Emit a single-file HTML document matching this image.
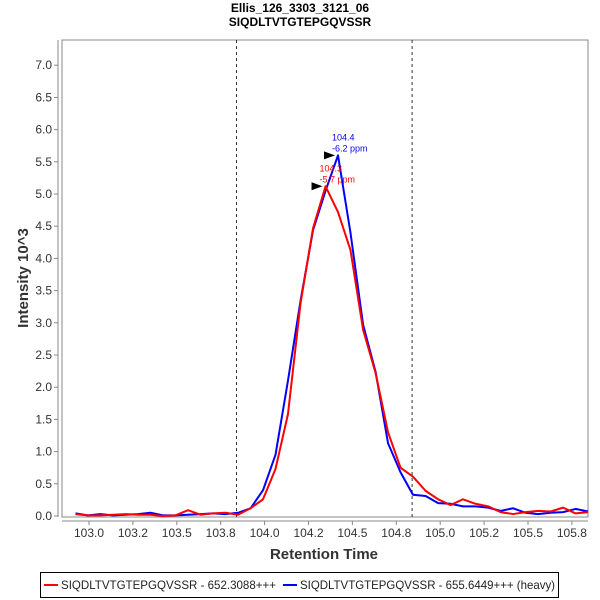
<!DOCTYPE html>
<html><head><meta charset="utf-8"><style>
body{margin:0;background:#fff;font-family:"Liberation Sans",sans-serif}
svg{display:block}
</style></head><body>
<svg id="chart" width="600" height="600" xmlns="http://www.w3.org/2000/svg">
<text x="300" y="12" text-anchor="middle" font-size="12" font-weight="bold">Ellis_126_3303_3121_06</text>
<text x="300" y="26" text-anchor="middle" font-size="12" font-weight="bold">SIQDLTVTGTEPGQVSSR</text>
<rect x="62" y="40" width="526" height="477" fill="#fff" stroke="#888"/>
<g id="yaxis"></g>
<g id="xaxis"></g>
<g id="marks"></g>
<text x="324" y="559" text-anchor="middle" font-size="15" font-weight="bold" fill="#333">Retention Time</text>
<text transform="translate(28,278) rotate(-90)" text-anchor="middle" font-size="15" font-weight="bold" fill="#333">Intensity 10^3</text>
<g>
<rect x="40.5" y="572.5" width="518" height="25" fill="#fff" stroke="#000"/>
<line x1="44" y1="585" x2="58" y2="585" stroke="red" stroke-width="2"/>
<text x="61" y="589" font-size="12" fill="#222" textLength="215" lengthAdjust="spacingAndGlyphs">SIQDLTVTGTEPGQVSSR - 652.3088+++</text>
<line x1="283" y1="585" x2="297" y2="585" stroke="blue" stroke-width="2"/>
<text x="300" y="589" font-size="12" fill="#222" textLength="255" lengthAdjust="spacingAndGlyphs">SIQDLTVTGTEPGQVSSR - 655.6449+++ (heavy)</text>
</g>
</svg>
<script>
const times=[102.923,102.994,103.065,103.137,103.208,103.279,103.350,103.421,103.493,103.564,103.635,103.706,103.777,103.849,103.920,103.991,104.062,104.133,104.205,104.276,104.347,104.418,104.489,104.561,104.632,104.703,104.774,104.845,104.917,104.988,105.059,105.130,105.201,105.273,105.344,105.415,105.486,105.557,105.629,105.700,105.771,105.842];
const lightValues=[0.03,0.01,0.01,0.02,0.03,0.02,0.02,0.0,0.01,0.09,0.02,0.04,0.05,0.02,0.12,0.26,0.73,1.58,3.31,4.47,5.12,4.72,4.13,2.89,2.22,1.30,0.75,0.61,0.39,0.26,0.17,0.26,0.19,0.15,0.06,0.03,0.06,0.08,0.07,0.13,0.04,0.06];
const heavyValues=[0.04,0.01,0.03,0.01,0.02,0.03,0.05,0.01,0.01,0.02,0.03,0.04,0.03,0.05,0.12,0.40,0.95,2.10,3.35,4.44,5.05,5.60,4.40,2.97,2.24,1.13,0.68,0.33,0.31,0.20,0.19,0.15,0.15,0.13,0.08,0.12,0.05,0.03,0.05,0.06,0.11,0.07];
const yTicks=[0,0.5,1,1.5,2,2.5,3,3.5,4,4.5,5,5.5,6,6.5,7];
const xTicks=[103.0,103.25,103.5,103.75,104.0,104.25,104.5,104.75,105.0,105.25,105.5,105.75];
const xTickLabels=["103.0","103.2","103.5","103.8","104.0","104.2","104.5","104.8","105.0","105.2","105.5","105.8"];
const boundaries=[103.84,104.84];
const peakLight={t:104.347,v:5.12,rt:"104.3",ppm:"-5.7 ppm"};
const peakHeavy={t:104.418,v:5.60,rt:"104.4",ppm:"-6.2 ppm"};
const X=t=>89+(t-103)*175.6;
const Y=v=>516-v*64.4;
const NS="http://www.w3.org/2000/svg";
function mk(tag,attrs,parent,txt){const e=document.createElementNS(NS,tag);for(const k in attrs)e.setAttribute(k,attrs[k]);if(txt!==undefined)e.textContent=txt;parent.appendChild(e);return e;}
const ya=document.getElementById('yaxis'),xa=document.getElementById('xaxis'),mg=document.getElementById('marks');
mk('line',{x1:58,y1:40,x2:58,y2:517,stroke:'#888'},ya);
yTicks.forEach(v=>{mk('line',{x1:54,y1:Y(v),x2:58,y2:Y(v),stroke:'#888'},ya);
const t=mk('text',{x:52,y:Y(v)+4,'text-anchor':'end','font-size':12,fill:'#333'},ya,v.toFixed(1));

});
mk('line',{x1:62,y1:521,x2:588,y2:521,stroke:'#888'},xa);
xTicks.forEach((v,i)=>{mk('line',{x1:X(v),y1:521,x2:X(v),y2:525,stroke:'#888'},xa);
const t=mk('text',{x:X(v),y:537,'text-anchor':'middle','font-size':12,fill:'#333'},xa,xTickLabels[i]);

});
boundaries.forEach(b=>{const l=mk('line',{x1:X(b),y1:40,x2:X(b),y2:517,stroke:'#333','stroke-dasharray':'3,3'},mg);

});
function series(vals,color,name){const p=mk('polyline',{points:vals.map((v,i)=>X(times[i])+','+Y(v)).join(' '),fill:'none',stroke:color,'stroke-width':2,'stroke-linejoin':'round'},mg);

}
series(heavyValues,'blue','heavy-series-line');
series(lightValues,'red','light-series-line');
function ann(pk,color,name){const x=X(pk.t),y=Y(pk.v);
const tri=mk('polygon',{points:`${x-14},${y-4} ${x-3},${y} ${x-14},${y+4}`,fill:'#000'},mg);


const t1=mk('text',{x:x-6,y:y-15,'font-size':9,fill:color},mg,pk.rt);


const t2=mk('text',{x:x-6,y:y-4,'font-size':9,fill:color},mg,pk.ppm);

}
ann(peakLight,'red','light-peak-label');
ann(peakHeavy,'blue','heavy-peak-label');
</script>
</body></html>
